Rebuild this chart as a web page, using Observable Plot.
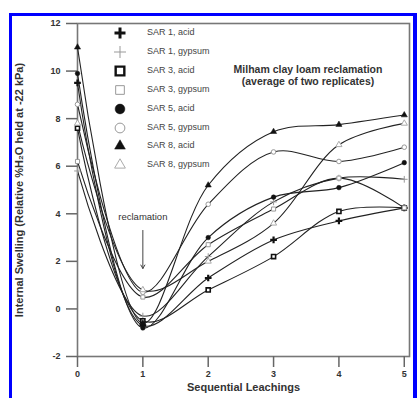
<!DOCTYPE html>
<html>
<head>
<meta charset="utf-8">
<script src="https://cdn.jsdelivr.net/npm/d3@7"></script>
<script src="https://cdn.jsdelivr.net/npm/@observablehq/plot@0.6"></script>
<style>
  html, body { margin: 0; padding: 0; background: #fff; }
  #wrap { position: relative; width: 417px; height: 398px; overflow: hidden; font-family: "Liberation Sans", Arial, sans-serif; }
  #blue { position: absolute; left: 9px; top: 13px; width: 401px; height: 400px; border-left: 3px solid #0000ff; border-top: 3px solid #0000ff; border-right: 4px solid #0000ff; }
  #legend { position: absolute; left: 110px; top: 26px; font-size: 9px; color: #444; }
  #legend .row { position: absolute; left: 0; height: 14px; white-space: nowrap; }
  #legend svg { position: absolute; left: 0; top: 0; }
  #legend span { position: absolute; left: 37px; top: 1px; }
  #title { position: absolute; left: 208px; width: 200px; top: 64px; text-align: center; font-weight: bold; font-size: 10.5px; line-height: 11.5px; color: #333; }
  svg text { font-family: "Liberation Sans", Arial, sans-serif; }
  #chart g[aria-label="x-axis tick label"] text, #chart g[aria-label="y-axis tick label"] text { font-weight: bold; }
  #chart g[aria-label="x-axis label"] text, #chart g[aria-label="y-axis label"] text { font-weight: bold; }
</style>
</head>
<body>
<div id="wrap">
  <div id="chart"></div>
  <div id="legend"></div>
  <div id="title"></div>
  <div id="blue"></div>
</div>
<script>
// ---- data ----
const leachings = [0, 1, 2, 3, 4, 5];
const seriesNames = ["SAR 1, acid", "SAR 1, gypsum", "SAR 3, acid", "SAR 3, gypsum", "SAR 5, acid", "SAR 5, gypsum", "SAR 8, acid", "SAR 8, gypsum"];
const sar1Acid   = [9.5, -0.7, 1.3, 2.9, 3.7, 4.25];
const sar1Gypsum = [5.8, -0.3, 2.2, 4.5, 5.5, 5.45];
const sar3Acid   = [7.6, -0.5, 0.8, 2.2, 4.1, 4.25];
const sar3Gypsum = [6.2, 0.5, 2.7, 4.2, 5.5, 4.25];
const sar5Acid   = [9.9, -0.8, 3.0, 4.7, 5.1, 6.15];
const sar5Gypsum = [8.6, 0.7, 4.4, 6.6, 6.2, 6.8];
const sar8Acid   = [11.0, -0.6, 5.2, 7.45, 7.75, 8.15];
const sar8Gypsum = [7.8, 0.8, 2.0, 3.6, 6.9, 7.8];
const seriesValues = [sar1Acid, sar1Gypsum, sar3Acid, sar3Gypsum, sar5Acid, sar5Gypsum, sar8Acid, sar8Gypsum];
const xTicks = [0, 1, 2, 3, 4, 5];
const yTicks = [-2, 0, 2, 4, 6, 8, 10, 12];
const titleLines = ["Milham clay loam reclamation", "(average of two replicates)"];
const annotationLabel = "reclamation";
const annotationX = 1;
const annotationLabelY = 3.85;
const annotationArrowFrom = 3.3;
const annotationArrowTo = 1.7;

// ---- marker styles per series ----
const markerStyle = [
  {symbol: "plus", fill: "none", stroke: "#111", sw: 2.2},
  {symbol: "plus", fill: "none", stroke: "#999", sw: 1},
  {symbol: "square", fill: "#fff", stroke: "#111", sw: 1.6},
  {symbol: "square", fill: "#fff", stroke: "#999", sw: 1},
  {symbol: "circle", fill: "#111", stroke: "#111", sw: 0.5},
  {symbol: "circle", fill: "#fff", stroke: "#999", sw: 1},
  {symbol: "triangle", fill: "#111", stroke: "#111", sw: 0.5},
  {symbol: "triangle", fill: "#fff", stroke: "#aaa", sw: 1}
];

const table = seriesNames.flatMap((name, i) =>
  leachings.map((x, j) => ({series: name, idx: i, x, y: seriesValues[i][j]})));

const dotMarks = markerStyle.map((s, i) => Plot.dot(table.filter(d => d.idx === i), {
  x: "x", y: "y", symbol: () => s.symbol, r: 2.3, fill: s.fill, stroke: s.stroke, strokeWidth: s.sw
}));

const chart = Plot.plot({
  width: 417,
  height: 398,
  marginLeft: 77,
  marginRight: 8,
  marginTop: 23,
  marginBottom: 42,
  style: {fontFamily: "Liberation Sans, Arial, sans-serif", background: "transparent"},
  x: {domain: [0, 5.08]},
  y: {domain: [-2, 12]},
  marks: [
    Plot.frame({stroke: "#777", strokeWidth: 1.6}),
    Plot.axisX({ticks: xTicks, tickSize: 11, tickPadding: 3, fontSize: 9, stroke: "#666", fill: "#333", strokeWidth: 1.5, label: "Sequential Leachings", labelAnchor: "center", labelOffset: 34, labelArrow: "none", tickFormat: d => String(d)}),
    Plot.axisY({ticks: yTicks, tickSize: 11, tickPadding: 6, fontSize: 9, stroke: "#666", fill: "#333", strokeWidth: 1.5, label: "Internal Swelling (Relative %H₂O held at -22 kPa)", labelAnchor: "center", labelOffset: 62, labelArrow: "none", tickFormat: d => String(d)}),
    Plot.line(table, {x: "x", y: "y", z: "series", curve: "catmull-rom", stroke: "#222", strokeWidth: 1.1}),
    ...dotMarks,
    Plot.text([annotationLabel], {x: () => annotationX, y: () => annotationLabelY, text: d => d, fontSize: 9.5, fill: "#333"}),
    Plot.arrow([annotationX], {x1: d => d, x2: d => d, y1: () => annotationArrowFrom, y2: () => annotationArrowTo, stroke: "#444", strokeWidth: 1, headLength: 6})
  ]
});
chart.querySelectorAll('g[aria-label="x-axis label"] text, g[aria-label="y-axis label"] text').forEach(t => {
  t.setAttribute("font-size", "11");
  t.setAttribute("fill", "#333");
});
document.getElementById("chart").appendChild(chart);

// ---- legend ----
const legend = document.getElementById("legend");
seriesNames.forEach((name, i) => {
  const s = markerStyle[i];
  const row = document.createElement("div");
  row.className = "row";
  row.style.top = (i * 18.9) + "px";
  const symType = {plus: d3.symbolCross, square: d3.symbolSquare, circle: d3.symbolCircle, triangle: d3.symbolTriangle}[s.symbol];
  let path;
  if (s.symbol === "plus") {
    const h = i === 0 ? 5.5 : 6;
    path = `<path d="M${-h},0H${h}M0,${-h}V${h}" fill="none" stroke="${s.stroke}" stroke-width="${i === 0 ? 3 : 1}"/>`;
  } else {
    const size = s.symbol === "triangle" ? 50 : 75;
    path = `<path d="${d3.symbol(symType, size)()}" fill="${s.fill}" stroke="${s.stroke}" stroke-width="${s.symbol === 'square' && i === 2 ? 2.4 : s.sw}"/>`;
  }
  row.innerHTML = `<svg width="20" height="14" viewBox="-10 -7 20 14">${path}</svg><span>${name}</span>`;
  legend.appendChild(row);
});

// ---- title ----
document.getElementById("title").innerHTML = titleLines.join("<br>");
</script>
</body>
</html>
